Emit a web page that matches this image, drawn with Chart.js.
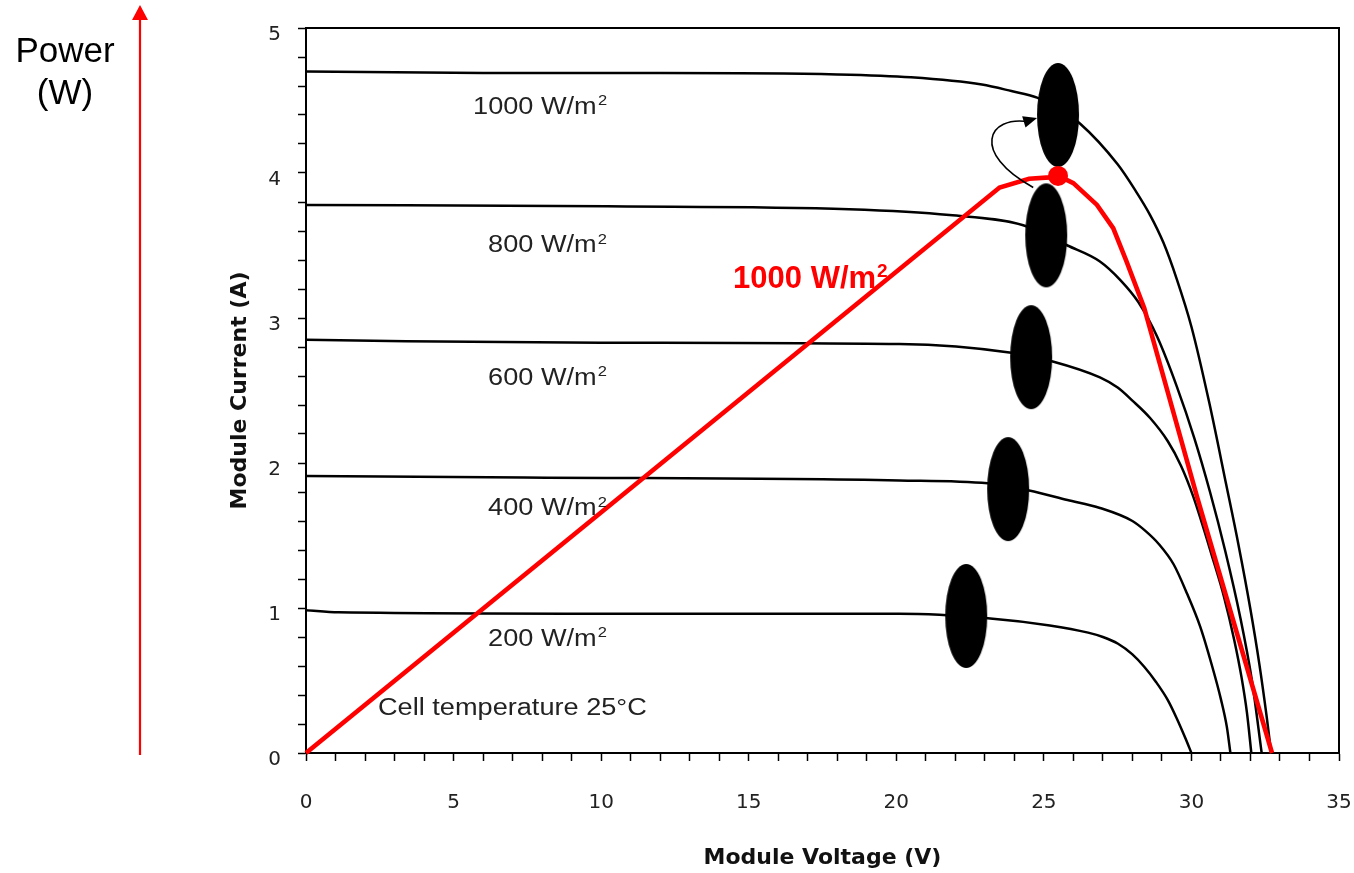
<!DOCTYPE html>
<html>
<head>
<meta charset="utf-8">
<script src="https://cdn.jsdelivr.net/npm/chart.js@4.4.0/dist/chart.umd.min.js"></script>
<style>
  body { margin: 0; background: #fff; }
  canvas { display: block; }
</style>
</head>
<body>
<canvas id="ivChart" width="1354" height="873"></canvas>
<script>
// I-V curves of the module, voltage in V, current in A
const voltage1000 = [0, 6, 12, 18, 20.5, 22.9, 23.9, 24.77, 25.5, 26.23, 27.5, 28.1, 28.6, 29.05, 29.5, 30.0, 30.6, 31.18, 31.6, 32.0, 32.3, 32.55, 32.7];
const current1000 = [4.70, 4.69, 4.69, 4.68, 4.66, 4.61, 4.565, 4.52, 4.44, 4.34, 4.06, 3.88, 3.71, 3.52, 3.27, 2.94, 2.42, 1.85, 1.43, 0.99, 0.615, 0.25, 0];

const voltage800 = [0, 10.2, 18.4, 21.8, 24.3, 25.8, 26.9, 27.6, 28.2, 28.84, 29.5, 30.1, 30.63, 31.15, 31.65, 32.05, 32.38];
const current800 = [3.78, 3.77, 3.75, 3.71, 3.64, 3.50, 3.39, 3.26, 3.11, 2.87, 2.53, 2.17, 1.80, 1.39, 0.94, 0.50, 0];

const voltage600 = [0, 3.4, 10, 20.1, 23.9, 25.3, 26.9, 27.5, 28.0, 28.6, 29.2, 29.65, 30.06, 30.74, 31.1, 31.45, 31.7, 31.88, 32.03];
const current600 = [2.85, 2.84, 2.83, 2.82, 2.76, 2.70, 2.59, 2.52, 2.43, 2.31, 2.15, 1.98, 1.77, 1.33, 1.08, 0.78, 0.52, 0.28, 0];

const voltage400 = [0, 7.4, 20.1, 23.1, 24.5, 25.8, 26.9, 28.0, 28.45, 28.9, 29.4, 29.85, 30.3, 30.7, 31.0, 31.2, 31.32];
const current400 = [1.91, 1.90, 1.88, 1.86, 1.81, 1.745, 1.69, 1.60, 1.53, 1.44, 1.30, 1.10, 0.87, 0.60, 0.37, 0.18, 0];

const voltage200 = [0, 1.1, 11.2, 20.1, 23.1, 25.2, 26.5, 27.0, 27.5, 28.0, 28.4, 28.8, 29.2, 29.5, 29.8, 30.0];
const current200 = [0.985, 0.97, 0.96, 0.96, 0.93, 0.88, 0.83, 0.80, 0.755, 0.68, 0.595, 0.49, 0.365, 0.24, 0.10, 0];

// power curve at 1000 W/m2 drawn in red over the same axes
const powerVoltage = [0, 23.5, 24.5, 25.2, 25.5, 26.0, 26.8, 27.35, 27.8, 28.4, 30.2, 32.73];
const powerValue = [0, 3.90, 3.96, 3.97, 3.98, 3.93, 3.78, 3.62, 3.39, 3.07, 1.76, 0];

// maximum power point and the marked knees
const mppVoltage = [25.48];
const mppValue = [3.98];
const kneeVoltage = [25.48, 25.08, 24.57, 23.79, 22.37];
const kneeCurrent = [4.40, 3.57, 2.73, 1.82, 0.945];

const curveNames = ['1000', '800', '600', '400', '200'];
const xTicksMajor = [0, 5, 10, 15, 20, 25, 30, 35];
const yTicksMajor = [0, 1, 2, 3, 4, 5];

function toPoints(xs, ys) {
  return xs.map((v, i) => ({ x: v, y: ys[i] }));
}

function makeEllipse(rx, ry) {
  const c = document.createElement('canvas');
  c.width = rx * 2 + 2;
  c.height = ry * 2 + 2;
  const g = c.getContext('2d');
  g.fillStyle = '#000';
  g.beginPath();
  g.ellipse(c.width / 2, c.height / 2, rx, ry, 0, 0, Math.PI * 2);
  g.fill();
  return c;
}

const SANS = '"Liberation Sans", Arial, Helvetica, sans-serif';

// text of the original plot is slightly wide, so it is stretched
function stretchedText(ctx, text, px, py, size, color, sup) {
  ctx.save();
  ctx.translate(px, py);
  ctx.scale(1.18, 1);
  ctx.font = `${size}px ${SANS}`;
  ctx.fillStyle = color;
  ctx.textAlign = 'left';
  ctx.textBaseline = 'alphabetic';
  ctx.fillText(text, 0, 0);
  if (sup) {
    const w = ctx.measureText(text).width;
    ctx.font = `${Math.round(size * 0.62)}px ${SANS}`;
    ctx.fillText(sup, w + 1, -size * 0.36);
  }
  ctx.restore();
}

// label anchors in data units (left edge, baseline)
const curveLabelPos = [[5.66, 4.41], [6.17, 3.455], [6.17, 2.54], [6.17, 1.64], [6.17, 0.74]];

const extrasPlugin = {
  id: 'figureExtras',
  afterDatasetsDraw(chart) {
    const { ctx, chartArea: a, scales: { x, y } } = chart;
    ctx.save();

    // top and right of the frame
    ctx.strokeStyle = '#000';
    ctx.lineWidth = 2;
    ctx.beginPath();
    ctx.moveTo(a.left, a.top);
    ctx.lineTo(a.right, a.top);
    ctx.lineTo(a.right, a.bottom);
    ctx.stroke();

    // curve labels
    curveNames.forEach((name, i) => {
      const [lv, li] = curveLabelPos[i];
      stretchedText(ctx, name + ' W/m', x.getPixelForValue(lv), y.getPixelForValue(li), 23, '#222', '2');
    });
    stretchedText(ctx, 'Cell temperature 25\u00B0C', x.getPixelForValue(2.44), y.getPixelForValue(0.262), 23, '#222');

    // red label of the power curve
    const rx = x.getPixelForValue(14.47), ry = y.getPixelForValue(3.21);
    ctx.fillStyle = '#ff0000';
    ctx.font = `bold 31px ${SANS}`;
    ctx.textBaseline = 'alphabetic';
    ctx.fillText('1000 W/m', rx, ry);
    const rw = ctx.measureText('1000 W/m').width;
    ctx.font = `bold 19px ${SANS}`;
    ctx.fillText('2', rx + rw + 1, ry - 11);

    // curved arrow between the two upper knees
    const p0 = [x.getPixelForValue(24.64), y.getPixelForValue(3.90)];
    const c1 = [x.getPixelForValue(22.5), y.getPixelForValue(4.14)];
    const c2 = [x.getPixelForValue(23.1), y.getPixelForValue(4.40)];
    const p3 = [x.getPixelForValue(24.77), y.getPixelForValue(4.38)];
    ctx.strokeStyle = '#000';
    ctx.lineWidth = 1.6;
    ctx.beginPath();
    ctx.moveTo(p0[0], p0[1]);
    ctx.bezierCurveTo(c1[0], c1[1], c2[0], c2[1], p3[0] - 8, p3[1] + 4);
    ctx.stroke();
    const ang = Math.atan2(p3[1] - c2[1], p3[0] - c2[0]) - 0.35;
    ctx.fillStyle = '#000';
    ctx.beginPath();
    ctx.moveTo(p3[0], p3[1]);
    ctx.lineTo(p3[0] - 15 * Math.cos(ang - 0.4), p3[1] - 15 * Math.sin(ang - 0.4));
    ctx.lineTo(p3[0] - 15 * Math.cos(ang + 0.4), p3[1] - 15 * Math.sin(ang + 0.4));
    ctx.closePath();
    ctx.fill();
    ctx.restore();
  },
  afterDraw(chart) {
    const { ctx, scales: { y } } = chart;
    ctx.save();
    // Power axis arrow on the left
    const base = y.getPixelForValue(0) + 2;
    ctx.strokeStyle = '#ff0000';
    ctx.fillStyle = '#ff0000';
    ctx.lineWidth = 2.2;
    ctx.beginPath();
    ctx.moveTo(140, base);
    ctx.lineTo(140, 18);
    ctx.stroke();
    ctx.beginPath();
    ctx.moveTo(140, 5);
    ctx.lineTo(132, 20);
    ctx.lineTo(148, 20);
    ctx.closePath();
    ctx.fill();

    ctx.fillStyle = '#000';
    ctx.font = `35px ${SANS}`;
    ctx.textAlign = 'center';
    ctx.textBaseline = 'alphabetic';
    ctx.fillText('Power', 65, 62);
    ctx.fillText('(W)', 65, 104);
    ctx.restore();
  }
};

const tickFont = { family: '"DejaVu Sans", sans-serif', size: 20 };
const titleFont = { family: '"DejaVu Sans", sans-serif', size: 22, weight: 'bold' };

const ctx = document.getElementById('ivChart').getContext('2d');
const blackLine = {
  showLine: true,
  borderColor: '#000',
  borderWidth: 2.5,
  pointRadius: 0,
  cubicInterpolationMode: 'monotone',
  fill: false
};

new Chart(ctx, {
  type: 'scatter',
  data: {
    datasets: [
      {
        label: 'MPP',
        data: toPoints(mppVoltage, mppValue),
        pointRadius: 10,
        pointBackgroundColor: '#ff0000',
        pointBorderWidth: 0,
        showLine: false,
        clip: false
      },
      {
        label: 'knees',
        data: toPoints(kneeVoltage, kneeCurrent),
        pointStyle: makeEllipse(21, 52),
        pointRadius: 10,
        showLine: false,
        clip: false
      },
      {
        label: 'Power',
        data: toPoints(powerVoltage, powerValue),
        showLine: true,
        borderColor: '#ff0000',
        borderWidth: 4.6,
        pointRadius: 0,
        tension: 0,
        clip: 4
      },
      { label: '1000 W/m2', data: toPoints(voltage1000, current1000), ...blackLine },
      { label: '800 W/m2', data: toPoints(voltage800, current800), ...blackLine },
      { label: '600 W/m2', data: toPoints(voltage600, current600), ...blackLine },
      { label: '400 W/m2', data: toPoints(voltage400, current400), ...blackLine },
      { label: '200 W/m2', data: toPoints(voltage200, current200), ...blackLine }
    ]
  },
  options: {
    responsive: false,
    animation: false,
    layout: { padding: { top: 28, right: 15, left: 0, bottom: 0 } },
    plugins: {
      legend: { display: false },
      tooltip: { enabled: false }
    },
    scales: {
      x: {
        type: 'linear',
        min: 0,
        max: 35,
        afterFit: (scale) => {
          scale.height = 120;
          // tick padding pushes into the right margin otherwise
          scale.paddingLeft = 0;
          scale.paddingRight = 0;
        },
        border: { display: true, color: '#000', width: 2 },
        grid: { drawOnChartArea: false, drawTicks: true, tickLength: 8, tickColor: '#000', tickWidth: 1.5 },
        ticks: {
          stepSize: 1,
          autoSkip: false,
          maxRotation: 0,
          padding: 30,
          color: '#222',
          font: tickFont,
          callback: (v) => xTicksMajor.includes(v) ? String(v) : ''
        },
        title: {
          display: true,
          text: 'Module Voltage (V)',
          color: '#111',
          font: titleFont,
          padding: { top: 0, bottom: 2 }
        }
      },
      y: {
        type: 'linear',
        min: 0,
        max: 5,
        afterFit: (scale) => {
          scale.width = 306;
          scale.paddingTop = 0;
          scale.paddingBottom = 0;
        },
        border: { display: true, color: '#000', width: 2 },
        grid: { drawOnChartArea: false, drawTicks: true, tickLength: 8, tickColor: '#000', tickWidth: 1.5 },
        ticks: {
          stepSize: 0.2,
          autoSkip: false,
          padding: 17,
          labelOffset: 7,
          color: '#222',
          font: tickFont,
          callback: (v) => {
            const r = Math.round(v);
            return Math.abs(v - r) < 1e-6 && yTicksMajor.includes(r) ? String(r) : '';
          }
        },
        title: {
          display: true,
          text: 'Module Current (A)',
          color: '#111',
          font: titleFont,
          padding: { top: 227, bottom: 0 }
        }
      }
    }
  },
  plugins: [extrasPlugin]
});
</script>
</body>
</html>
